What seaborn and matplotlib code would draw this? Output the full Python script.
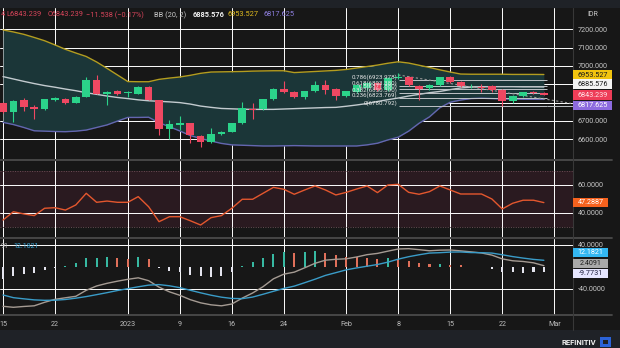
import numpy as np
import matplotlib
matplotlib.use("Agg")
import matplotlib.pyplot as plt
from matplotlib.patches import Rectangle
from matplotlib.lines import Line2D
from matplotlib.ticker import FuncFormatter
import seaborn as sns

# ---------------- data ----------------
opens = [6800, 6749, 6812, 6778, 6763, 6814, 6822, 6798, 6832, 6922, 6847, 6862, 6852, 6847, 6887, 6814,
         6654, 6679, 6687, 6620, 6583, 6628, 6641, 6687, 6766, 6763, 6818, 6874, 6860, 6829, 6863, 6896,
         6874, 6837, 6860, 6880, 6909, 6869, 6936, 6938, 6891, 6878, 6896, 6938, 6914, 6888, 6887, 6891,
         6871, 6807, 6836, 6860, 6852]
closes = [6750, 6810, 6774, 6763, 6820, 6824, 6796, 6832, 6922, 6847, 6860, 6849, 6856, 6887, 6814, 6654,
          6681, 6687, 6623, 6583, 6628, 6641, 6687, 6769, 6760, 6818, 6874, 6860, 6829, 6863, 6896, 6869,
          6837, 6861, 6896, 6905, 6869, 6936, 6940, 6894, 6877, 6898, 6938, 6911, 6892, 6892, 6880, 6869,
          6807, 6836, 6856, 6854.777, 6843.239]
highs = [6805, 6815, 6825, 6787, 6822, 6830, 6824, 6835, 6938, 6951, 6865, 6870, 6866, 6890, 6890, 6816,
         6705, 6727, 6690, 6622, 6660, 6645, 6690, 6805, 6796, 6822, 6878, 6918, 6864, 6866, 6920, 6923,
         6878, 6866, 6900, 6910, 6912, 6940, 6962, 6945, 6895, 6902, 6942, 6945, 6918, 6900, 6900, 6895,
         6875, 6840, 6860, 6862, 6856]
lows = [6745, 6696, 6756, 6709, 6760, 6810, 6790, 6796, 6828, 6845, 6787, 6840, 6830, 6845, 6812, 6623,
        6600, 6650, 6578, 6556, 6580, 6625, 6638, 6684, 6712, 6760, 6815, 6855, 6825, 6820, 6860, 6845,
        6815, 6832, 6855, 6870, 6865, 6865, 6930, 6890, 6814, 6870, 6893, 6905, 6885, 6880, 6860, 6860,
        6781, 6800, 6832, 6845, 6843.239]

bb_upper = [7197, 7186, 7173, 7156, 7138, 7115, 7091, 7071, 7052, 7022, 6987, 6951, 6915, 6914, 6914, 6927,
            6934, 6940, 6949, 6960, 6967, 6968, 6969, 6970, 6972, 6973, 6974, 6974, 6964, 6967, 6970, 6973,
            6976, 6981, 6989, 6997, 7005, 7015, 7023, 7016, 7004, 6992, 6979, 6967, 6956, 6955, 6955, 6955,
            6955, 6954, 6954, 6954, 6953.527]
bb_mid = [6942, 6929, 6916, 6904, 6893, 6884, 6874, 6865, 6854, 6845, 6836, 6828, 6822, 6815, 6810, 6807,
          6804, 6800, 6792, 6781, 6774, 6768, 6766, 6764, 6763, 6763, 6763, 6765, 6767, 6769, 6771, 6773,
          6774, 6780, 6787, 6795, 6806, 6816, 6825, 6836, 6845, 6854, 6861, 6871, 6880, 6884, 6886, 6887,
          6887, 6887, 6886, 6886, 6885.576]
bb_lower = [6692, 6680, 6664, 6646, 6644, 6642, 6641, 6644, 6650, 6664, 6678, 6699, 6719, 6719, 6720, 6690,
            6668, 6645, 6620, 6604, 6590, 6577, 6569, 6567, 6565, 6563, 6563, 6564, 6565, 6564, 6563, 6563,
            6563, 6563, 6563, 6569, 6578, 6596, 6611, 6644, 6687, 6722, 6772, 6802, 6814, 6822, 6824, 6822,
            6820, 6819, 6818, 6818, 6817.625]

rsi = [34.7, 40.7, 39.1, 37.9, 43.2, 43.6, 41.9, 45.6, 54.0, 47.5, 48.4, 47.5, 47.5, 51.6, 44.3, 33.5,
       37.1, 37.1, 34.2, 31.1, 36.4, 37.9, 43.2, 49.7, 49.7, 54.0, 58.3, 56.9, 53.3, 56.4, 59.3, 56.4,
       52.8, 54.7, 57.1, 59.3, 54.5, 60.0, 60.5, 54.7, 53.3, 55.2, 59.3, 56.4, 53.5, 53.5, 53.5, 49.9,
       42.7, 46.8, 49.0, 49.0, 47.2887]

macd = [-71.5, -73.3, -71.8, -70.6, -64.2, -58.8, -56.0, -53.3, -42.4, -34.5, -29.7, -25.8, -22.4, -19.7,
        -24.9, -36.7, -45.2, -51.5, -59.4, -65.2, -68.8, -70.6, -67.3, -56.6, -47.3, -35.8, -21.5, -13.0,
        -9.4, -1.5, 6.7, 12.4, 14.0, 14.9, 18.2, 22.4, 24.7, 28.8, 32.7, 33.3, 31.5, 29.5, 30.6, 30.9,
        29.3, 27.5, 25.5, 21.6, 14.7, 11.3, 10.0, 7.6, 2.4091]
signal = [-50.9, -55.8, -57.9, -59.8, -60.6, -60.4, -59.1, -56.7, -53.8, -50.3, -46.7, -42.8, -39.4, -36.0,
          -33.0, -32.0, -34.2, -37.6, -42.3, -47.0, -51.3, -54.9, -57.2, -57.6, -54.7, -49.6, -44.2, -39.0,
          -34.8, -28.6, -22.2, -15.3, -10.3, -5.2, -1.7, 1.4, 4.5, 8.8, 14.3, 18.7, 22.2, 25.3, 26.0, 27.1,
          27.3, 26.2, 26.0, 25.3, 22.2, 18.9, 16.2, 13.8, 12.1821]
hist = [-22.4, -16.4, -13.3, -10.3, -5.5, -1.0, 1.0, 7.2, 15.6, 15.8, 17.6, 16.5, 15.0, 19.0, 14.5, -1.0,
        -7.3, -9.7, -14.5, -17.0, -18.8, -15.8, -8.5, 1.5, 9.7, 17.0, 24.0, 27.5, 25.5, 27.5, 28.5, 25.5,
        21.0, 18.5, 18.0, 17.0, 15.0, 15.5, 12.5, 11.0, 8.0, 5.5, 6.0, 4.3, 3.0, 0.8, -0.5, -4.0, -8.5,
        -10.0, -10.5, -9.5, -9.7731]

fib_ratio_labels = ["0", "0.236", "0.382", "0.5", "0.618", "0.786"]
fib_prices = [6780.792, 6823.769, 6850.390, 6871.880, 6893.380, 6923.978]
trend_idx = [38.0, 54.6]
trend_price = [6951, 6796]

tick_idx = [0, 5, 12, 17, 22, 27, 33, 38, 43, 48, 53]
tick_labels = ["15", "22", "2023", "9", "16", "24", "Feb", "8", "15", "22", "Mar"]
price_ticks = [6600, 6700, 7000, 7100, 7200]
price_minor = [6800, 6900]
rsi_ticks = [40, 60]
macd_ticks = [-40, 40]

# ---------------- style ----------------
sns.set_theme(style="dark")
plt.rcParams['font.family'] = ['Roboto', 'DejaVu Sans']

BG = '#171717'
BAND = '#1f2227'
GREEN = '#2bd38a'
RED = '#ef4862'
GRID = (1, 1, 1, 0.045)
LBL = '#c6c6c6'
W, H = 620, 348
XR = 573
X0, X1 = -0.29, 54.8

idx = np.arange(len(closes))
o = np.array(opens); c = np.array(closes)

fig = plt.figure(figsize=(W / 100, H / 100), dpi=100, facecolor=BG)


def px_ax(y0, y1):
    ax = fig.add_axes([0, 1 - y1 / H, XR / W, (y1 - y0) / H])
    ax.set_facecolor(BG)
    for s in ax.spines.values():
        s.set_visible(False)
    ax.set_xlim(X0, X1)
    ax.set_xticks(tick_idx)
    ax.grid(True, axis='x', color=GRID, lw=0.7)
    ax.yaxis.tick_right()
    ax.tick_params(axis='x', length=0, labelbottom=False)
    ax.tick_params(axis='y', which='both', length=0, pad=3.6, labelsize=5.2, labelcolor=LBL)
    ax.set_xlabel(''); ax.set_ylabel('')
    return ax


ax_p = px_ax(8, 159.5)
ax_r = px_ax(161, 236.5)
ax_m = px_ax(238.5, 314.5)

# ---------------- price panel ----------------
ax_p.set_ylim(6489.1, 7316.9)
ax_p.set_yticks(price_ticks)
ax_p.set_yticks(price_minor, minor=True)
ax_p.yaxis.set_major_formatter(FuncFormatter(lambda v, _: f"{v:.3f}"))
ax_p.grid(True, axis='y', which='both', color=GRID, lw=0.7)

ax_p.fill_between(idx, bb_lower, bb_upper, color='#1b3638', lw=0, zorder=1)
sns.lineplot(x=idx, y=bb_upper, ax=ax_p, color='#b39d20', lw=1.0, zorder=2, legend=False)
sns.lineplot(x=idx, y=bb_mid, ax=ax_p, color='#c3cbcf', lw=1.0, zorder=2, legend=False)
sns.lineplot(x=idx, y=bb_lower, ax=ax_p, color='#6466b0', lw=1.0, zorder=2, legend=False)

ax_p.hlines(fib_prices, 38.1, 52.3, colors='#bfc3c7', lw=0.7, zorder=3)
ax_p.hlines(fib_prices[0], 52.3, X1, colors='#bfc3c7', lw=0.7, zorder=3)
ax_p.plot(trend_idx, trend_price, color='#9a9a9a', lw=0.8, ls=(0, (2, 2)), zorder=3)

cols = np.where(c >= o, GREEN, RED)
ax_p.vlines(idx, lows, highs, colors=cols, lw=0.8, zorder=4)
ax_p.bar(idx, np.maximum(np.abs(c - o), 2.5), bottom=np.minimum(o, c), width=0.74,
         color=cols, lw=0, zorder=5)

for lab, pr in zip(fib_ratio_labels, fib_prices):
    ax_p.text(37.9, pr, f"{lab}({pr:.3f})", ha='right', va='bottom', fontsize=4.4,
              color='#e6e6e6', zorder=6)

# ---------------- RSI panel ----------------
ax_r.set_ylim(22.8, 77.33)
ax_r.axhspan(30, 70, color='#2a1a20', lw=0, zorder=0)
ax_r.axhline(70, color='#6b4d55', lw=0.7, ls=(0, (1, 1.5)), zorder=1)
ax_r.axhline(30, color='#6b4d55', lw=0.7, ls=(0, (1, 1.5)), zorder=1)
ax_r.set_yticks(rsi_ticks)
ax_r.yaxis.set_major_formatter(FuncFormatter(lambda v, _: f"{v:.4f}"))
ax_r.grid(True, axis='y', color=GRID, lw=0.7)
sns.lineplot(x=idx, y=rsi, ax=ax_r, color='#e4572e', lw=1.0, zorder=3, legend=False)

# ---------------- MACD panel ----------------
ax_m.set_ylim(-86.4, 51.8)
ax_m.set_yticks(macd_ticks)
ax_m.yaxis.set_major_formatter(FuncFormatter(lambda v, _: f"{v:.4f}"))
ax_m.grid(True, axis='y', color=GRID, lw=0.7)
hcols = []
for i, v in enumerate(hist):
    if v < 0:
        hcols.append('#e4e4ee')
    elif i == 0 or v >= hist[i - 1]:
        hcols.append('#37b9a2')
    else:
        hcols.append('#e0705a')
ax_m.bar(idx, hist, width=0.2, color=hcols, lw=0, zorder=2)
sns.lineplot(x=idx, y=macd, ax=ax_m, color='#a59b93', lw=1.0, zorder=3, legend=False)
sns.lineplot(x=idx, y=signal, ax=ax_m, color='#3a9cc8', lw=1.0, zorder=3, legend=False)
ax_m.set_xticks(tick_idx)
ax_m.set_xticklabels(tick_labels)
ax_m.tick_params(axis='x', labelbottom=True, labelsize=5.2, labelcolor='#bdbdbd', pad=4.5)
for a in (ax_p, ax_r, ax_m):
    a.set_xlabel(''); a.set_ylabel('')

# ---------------- frame / bands ----------------
fig.add_artist(Rectangle((0, 1 - 8 / H), 1, 8 / H, transform=fig.transFigure, fc=BAND, ec='none', zorder=0))
fig.add_artist(Rectangle((0, 0), 1, 18 / H, transform=fig.transFigure, fc=BAND, ec='none', zorder=0))
for yy in (160, 237.5, 315):
    fig.add_artist(Line2D([0, 612 / W], [1 - yy / H] * 2, color='#4a4a4a', lw=1.3, zorder=8))
fig.add_artist(Line2D([XR / W] * 2, [1 - 8 / H, 1 - 330 / H], color='#383838', lw=0.8, zorder=8))


def tag(ax, value, text, fc, tc, dy=0.0, width=38.7):
    disp_y = ax.transData.transform((0, value))[1]
    y_px = H - disp_y + dy
    fig.add_artist(Rectangle((XR / W, 1 - (y_px + 4.6) / H), width / W, 9.2 / H,
                             transform=fig.transFigure, fc=fc, ec='none', zorder=10))
    fig.text((XR + width / 2) / W, 1 - (y_px + 0.4) / H, text, ha='center', va='center',
             fontsize=5.2, color=tc, zorder=11)


tag(ax_p, bb_upper[-1], f"{bb_upper[-1]:.3f}", '#f2c40f', '#1a1a1a', 0.2)
tag(ax_p, bb_mid[-1], f"{bb_mid[-1]:.3f}", '#f4f4f4', '#1a1a1a', -3.0)
tag(ax_p, closes[-1], f"{closes[-1]:.3f}", '#ee3d58', '#ffe6ea', 0.4)
tag(ax_p, bb_lower[-1], f"{bb_lower[-1]:.3f}", '#8d6be0', '#ffffff', 6.0)
tag(ax_r, rsi[-1], f"{rsi[-1]:.4f}", '#f5621e', '#ffffff', 0.0, 35)
tag(ax_m, signal[-1], f"{signal[-1]:.4f}", '#33b7f2', '#ffffff', -7.8, 35)
tag(ax_m, macd[-1], f"{macd[-1]:.4f}", '#a9a9a9', '#1e1e1e', -2.5, 35)
tag(ax_m, hist[-1], f"{hist[-1]:.4f}", '#e6e6ff', '#1e1e3c', 0.8, 35)

# ---------------- header texts ----------------
def ftxt(x, y, s, color, size=5.3, weight='normal', ha='left'):
    fig.text(x / W, 1 - y / H, s, color=color, fontsize=size, fontweight=weight, ha=ha, va='center', zorder=12)


chg = closes[-1] - closes[-2]
ftxt(0.3, 15, "4", '#d9455b')
ftxt(6, 15, f"L{lows[-1]:.3f}", '#d9455b')
ftxt(48, 15, f"C{closes[-1]:.3f}", '#d9455b')
ftxt(86, 15, f"\u2212{abs(chg):.3f} (\u2212{abs(chg) / closes[-2] * 100:.2f}%)", '#d9455b')
ftxt(154, 15, "BB (20, 2)", '#c8c8c8')
ftxt(193, 15, f"{bb_mid[-1]:.3f}", '#f2f2f2', weight='bold')
ftxt(228, 15, f"{bb_upper[-1]:.3f}", '#e2bd1f')
ftxt(263, 15, f"{bb_lower[-1]:.3f}", '#8f80e0')
ftxt(593, 15, "IDR", '#c8c8c8', size=5.0, ha='center')

ftxt(0.3, 247, "91", '#bdbdbd', size=5.0)
ftxt(13, 247, f"{signal[-1]:.4f}", '#3aa6d8', size=5.0)

ftxt(596, 342.5, "REFINITIV", '#f0f0f0', size=5.5, weight='bold', ha='right')
fig.add_artist(Rectangle((600 / W, 1 - 347 / H), 11 / W, 10 / H, transform=fig.transFigure,
                         fc='#2b63d9', ec='none', zorder=12))
fig.add_artist(Rectangle((603 / W, 1 - 344 / H), 5 / W, 4 / H, transform=fig.transFigure,
                         fc=BAND, ec='none', zorder=13))

fig.savefig("out.png", dpi=100, facecolor=BG)
